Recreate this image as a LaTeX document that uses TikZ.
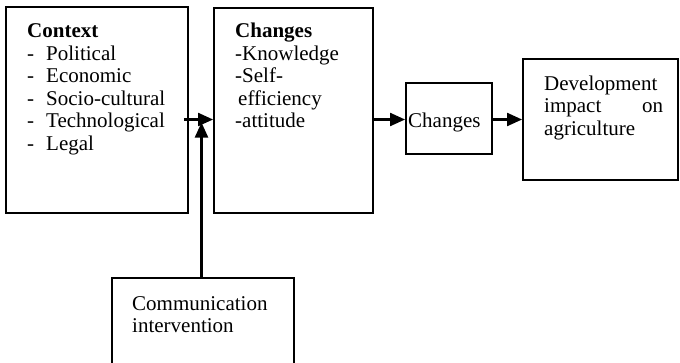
\documentclass[tikz,border=0pt]{standalone}
\usepackage{fontspec}
\setmainfont{Liberation Serif}
\usetikzlibrary{arrows.meta}
\tikzset{
  box/.style={draw=black, line width=1.9pt, rectangle, inner sep=0pt},
  txt/.style={inner sep=0pt, align=left, anchor=north west, font=\fontsize{21}{22.5}\selectfont},
  arr/.style={line width=2.2pt, -{Triangle[length=15pt,width=13pt]}}
}
\newcommand{\itm}[1]{\makebox[19pt][l]{-}#1}
\begin{document}
\begin{tikzpicture}[x=1pt,y=-1pt]
\useasboundingbox (0,0) rectangle (680,362);
\clip (0,0) rectangle (680,362);
% boxes
\node[box, minimum width=182pt, minimum height=206pt] (ctx) at (97,110) {};
\node[box, minimum width=159pt, minimum height=205pt] (chg) at (293.5,110.5) {};
\node[box, minimum width=86pt, minimum height=71pt] (small) at (449,118.5) {};
\node[box, minimum width=155pt, minimum height=121pt] (dev) at (600.5,119.5) {};
\node[box, minimum width=182pt, minimum height=90pt] (comm) at (203,323) {};
% texts
\node[txt] (ctxT) at (27,22) {\strut\textbf{Context}\\ \itm{Political}\\ \itm{Economic}\\ \itm{Socio-cultural}\\ \itm{Technological}\\ \itm{Legal}};
\node[txt] (chgT) at (235,22) {\strut\textbf{Changes}\\ -Knowledge\\ -Self-\\ \hspace*{3pt}efficiency\\ -attitude};
\node[txt, anchor=base west] (smallT) at (408,127) {Changes};
\node[txt] (devT) at (544,74.25) {\strut Development\\ \makebox[119pt][l]{impact\hfill on}\\ agriculture};
\node[txt] (commT) at (132,294.25) {\strut Communication\\ intervention};
% connectors
\coordinate (ay) at (0,119.5);
\coordinate (tip) at (201.5,122.5);
\draw[arr] ([xshift=-5pt]ctx.east |- ay) -- (chg.west |- ay);
\draw[arr] (tip |- comm.north) -- (tip);
\draw[arr] (chg.east |- ay) -- (small.west |- ay);
\draw[arr] (small.east |- ay) -- (dev.west |- ay);
\end{tikzpicture}
\end{document}
